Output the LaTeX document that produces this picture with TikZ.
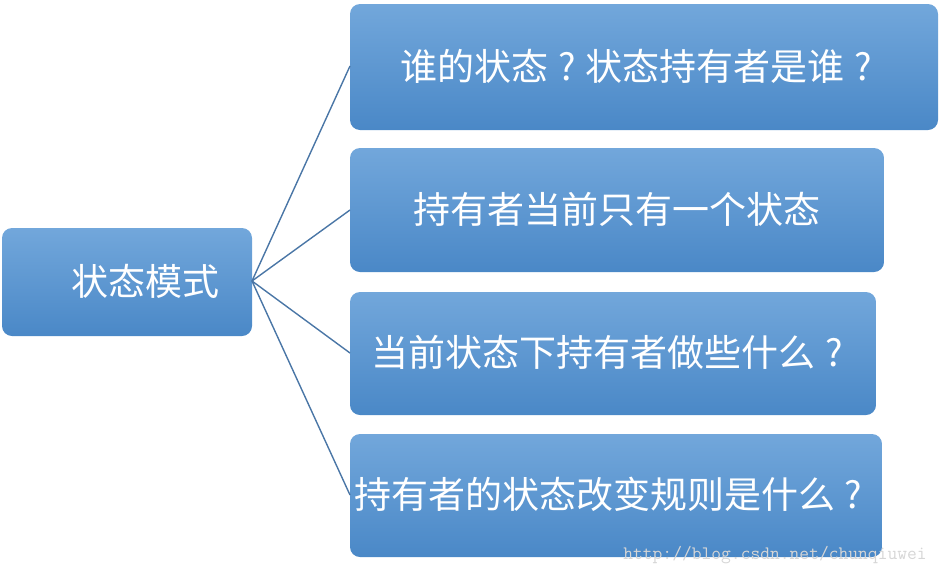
\documentclass[tikz,border=0pt]{standalone}
\usepackage{fontspec}
\newfontfamily\cjk{Noto Sans CJK SC}
\definecolor{boxtop}{HTML}{72A7DB}
\definecolor{boxbot}{HTML}{4A88C7}
\definecolor{linkc}{HTML}{4A76A6}
\definecolor{wm}{HTML}{D6D6D6}
\newcommand{\fq}{\makebox[1em][c]{?}}
\tikzset{
  box/.style={rounded corners=10pt, top color=boxtop, bottom color=boxbot, draw=none},
  lbl/.style={text=white, font=\cjk\fontsize{37}{40}\selectfont, inner sep=0pt},
  link/.style={draw=linkc, line width=1.4pt}
}
\begin{document}
\begin{tikzpicture}[x=1pt,y=-1pt]
\useasboundingbox (0,0) rectangle (942,576);
% boxes
\path[box] (2,228) rectangle (252,336);
\path[box] (350,4) rectangle (938,130);
\path[box] (350,148) rectangle (884,272);
\path[box] (350,292) rectangle (876,415);
\path[box] (350,434) rectangle (882,557);
% anchor coordinates
\coordinate (root) at (252,281);
\coordinate (c1) at (350,66);
\coordinate (c2) at (350,210);
\coordinate (c3) at (350,353);
\coordinate (c4) at (350,495);
\draw[link] (root) -- (c1);
\draw[link] (root) -- (c2);
\draw[link] (root) -- (c3);
\draw[link] (root) -- (c4);
% labels
\node[lbl] (t0) at (145,281) {状态模式};
\node[lbl] (t1) at (641,66) {谁的状态\fq 状态持有者是谁\fq};
\node[lbl] (t2) at (617,209) {持有者当前只有一个状态};
\node[lbl] (t3) at (612,352) {当前状态下持有者做些什么\fq};
\node[lbl] (t4) at (613,494) {持有者的状态改变规则是什么\fq};
\node[text=wm, font=\ttfamily\fontsize{19}{20}\selectfont, inner sep=0pt] (wmk) at (775,555) {http://blog.csdn.net/chunqiuwei};
\end{tikzpicture}
\end{document}
